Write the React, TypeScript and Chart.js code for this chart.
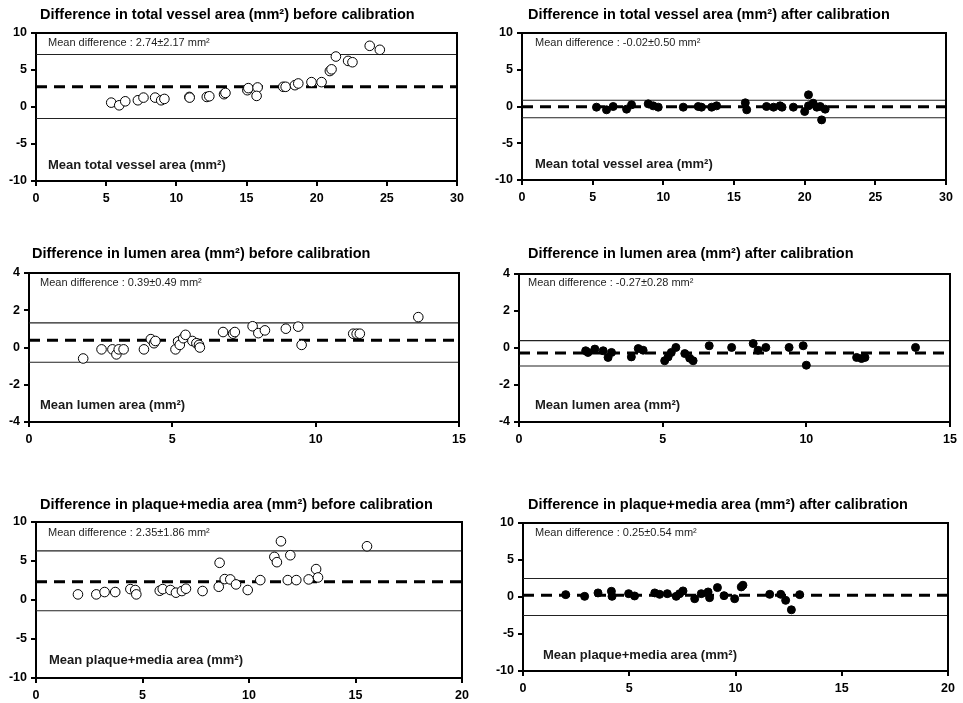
import React, { useEffect, useRef } from "react";
import { Chart, registerables } from "chart.js";

Chart.register(...registerables);

const FONT = "'Liberation Sans', Arial, Helvetica, sans-serif";

// Total vessel area: mean of both methods (x) vs. their difference (y)
const vesselBeforeX = [5.36, 5.93, 6.36, 7.26, 7.66, 8.49, 8.92, 9.15, 10.93, 10.95, 12.17, 12.35, 13.4, 13.5, 15.06, 15.13, 15.79, 15.72, 17.62, 17.79, 18.45, 18.69, 19.63, 20.35, 20.94, 21.06, 21.37, 22.24, 22.55, 23.78, 24.5];
const vesselBeforeY = [0.59, 0.23, 0.77, 0.91, 1.27, 1.27, 0.91, 1.09, 1.36, 1.27, 1.36, 1.45, 1.73, 1.9, 2.27, 2.55, 2.64, 1.5, 2.73, 2.73, 2.95, 3.18, 3.36, 3.36, 4.86, 5.09, 6.82, 6.23, 6.05, 8.27, 7.73];
const vesselAfterX = [5.27, 5.98, 6.45, 7.4, 7.75, 8.93, 9.28, 9.64, 11.41, 12.47, 12.7, 13.42, 13.77, 15.8, 15.9, 17.3, 17.8, 18.26, 18.4, 19.2, 20.0, 20.27, 20.27, 20.6, 20.86, 21.1, 21.2, 21.45];
const vesselAfterY = [-0.09, -0.45, 0, -0.36, 0.23, 0.36, 0.09, -0.09, -0.09, 0, -0.09, -0.09, 0.09, 0.5, -0.45, 0, -0.09, 0.09, -0.09, -0.09, -0.68, 1.59, 0.09, 0.45, -0.09, 0, -1.82, -0.36];

// Lumen area
const lumenBeforeX = [1.89, 2.53, 2.91, 3.05, 3.13, 3.3, 4.01, 4.25, 4.36, 4.41, 5.11, 5.2, 5.26, 5.38, 5.46, 5.7, 5.84, 5.93, 5.96, 6.77, 7.12, 7.18, 7.8, 8.0, 8.23, 8.96, 9.39, 9.51, 11.31, 11.43, 11.54, 13.58];
const lumenBeforeY = [-0.59, -0.1, -0.1, -0.37, -0.1, -0.1, -0.1, 0.45, 0.23, 0.35, -0.1, 0.32, 0.14, 0.5, 0.68, 0.35, 0.23, 0.14, 0, 0.83, 0.74, 0.83, 1.14, 0.77, 0.92, 1.01, 1.12, 0.14, 0.74, 0.74, 0.74, 1.63];
const lumenAfterX = [2.32, 2.4, 2.64, 2.93, 3.1, 3.22, 3.91, 4.15, 4.32, 5.07, 5.19, 5.3, 5.46, 5.77, 5.94, 6.06, 6.62, 7.4, 8.15, 8.32, 8.59, 9.4, 9.89, 10.0, 11.75, 11.92, 12.04, 13.8];
const lumenAfterY = [-0.15, -0.24, -0.06, -0.15, -0.51, -0.24, -0.48, -0.03, -0.12, -0.69, -0.48, -0.24, 0.03, -0.3, -0.55, -0.69, 0.12, 0.03, 0.24, -0.12, 0.03, 0.03, 0.12, -0.93, -0.51, -0.57, -0.51, 0.03];

// Plaque + media area
const plaqueBeforeX = [1.97, 2.83, 3.22, 3.72, 4.43, 4.66, 4.71, 5.81, 5.95, 6.31, 6.57, 6.85, 7.04, 7.82, 8.58, 8.62, 8.86, 9.12, 9.39, 9.94, 10.53, 11.19, 11.31, 11.5, 11.82, 11.94, 12.22, 12.8, 13.15, 13.24, 15.54];
const plaqueBeforeY = [0.72, 0.72, 1.02, 1.02, 1.4, 1.28, 0.72, 1.19, 1.4, 1.28, 0.94, 1.15, 1.45, 1.15, 1.7, 4.77, 2.68, 2.64, 2.0, 1.28, 2.55, 5.53, 4.85, 7.53, 2.55, 5.74, 2.55, 2.64, 3.96, 2.89, 6.89];
const plaqueAfterX = [2.01, 2.9, 3.53, 4.16, 4.19, 4.97, 5.25, 6.2, 6.43, 6.79, 7.21, 7.37, 7.53, 8.08, 8.39, 8.71, 8.78, 9.15, 9.46, 9.96, 10.27, 10.35, 11.61, 12.13, 12.36, 12.63, 13.02];
const plaqueAfterY = [0.32, 0.09, 0.55, 0.77, 0.09, 0.45, 0.14, 0.55, 0.36, 0.45, 0.09, 0.45, 0.82, -0.23, 0.45, 0.68, -0.09, 1.27, 0.18, -0.23, 1.36, 1.59, 0.36, 0.36, -0.45, -1.73, 0.32];

// Summary statistics per panel (vessel before/after, lumen before/after, plaque before/after)
const meanDiff = [2.74, -0.02, 0.39, -0.27, 2.35, 0.25];
const sdDiff = [2.17, 0.5, 0.49, 0.28, 1.86, 0.54];
const upperLimit = [7.1, 0.86, 1.32, 0.4, 6.3, 2.5];
const lowerLimit = [-1.55, -1.54, -0.79, -0.97, -1.37, -2.5];

// Axis ticks
const xTicksVessel = [0, 5, 10, 15, 20, 25, 30];
const xTicksLumen = [0, 5, 10, 15];
const xTicksPlaque = [0, 5, 10, 15, 20];
const yTicksWide = [-10, -5, 0, 5, 10];
const yTicksNarrow = [-4, -2, 0, 2, 4];

const titles = [
  "Difference in total vessel area (mm²) before calibration",
  "Difference in total vessel area (mm²) after calibration",
  "Difference in lumen area (mm²) before calibration",
  "Difference in lumen area (mm²) after calibration",
  "Difference in plaque+media area (mm²) before calibration",
  "Difference in plaque+media area (mm²) after calibration",
];
const captions = [
  "Mean total vessel area (mm²)",
  "Mean total vessel area (mm²)",
  "Mean lumen area (mm²)",
  "Mean lumen area (mm²)",
  "Mean plaque+media area (mm²)",
  "Mean plaque+media area (mm²)",
];

type Box = { l: number; t: number; r: number; b: number };
type Panel = {
  xs: number[];
  ys: number[];
  filled: boolean;
  xTicks: number[];
  yTicks: number[];
  box: Box;
  titleAt: [number, number];
  meanAt: [number, number];
  captionAt: [number, number];
};

// Plot rectangles (page pixels) and text offsets for the 3 x 2 grid
const panels: Panel[] = [
  { xs: vesselBeforeX, ys: vesselBeforeY, filled: false, xTicks: xTicksVessel, yTicks: yTicksWide,
    box: { l: 36, t: 33, r: 457, b: 181 }, titleAt: [4, -18], meanAt: [12, 10], captionAt: [12, -16] },
  { xs: vesselAfterX, ys: vesselAfterY, filled: true, xTicks: xTicksVessel, yTicks: yTicksWide,
    box: { l: 522, t: 33, r: 946, b: 180 }, titleAt: [6, -18], meanAt: [13, 10], captionAt: [13, -16] },
  { xs: lumenBeforeX, ys: lumenBeforeY, filled: false, xTicks: xTicksLumen, yTicks: yTicksNarrow,
    box: { l: 29, t: 273, r: 459, b: 422 }, titleAt: [3, -19], meanAt: [11, 10], captionAt: [11, -17] },
  { xs: lumenAfterX, ys: lumenAfterY, filled: true, xTicks: xTicksLumen, yTicks: yTicksNarrow,
    box: { l: 519, t: 274, r: 950, b: 422 }, titleAt: [9, -20], meanAt: [9, 9], captionAt: [16, -17] },
  { xs: plaqueBeforeX, ys: plaqueBeforeY, filled: false, xTicks: xTicksPlaque, yTicks: yTicksWide,
    box: { l: 36, t: 522, r: 462, b: 678 }, titleAt: [4, -17], meanAt: [12, 11], captionAt: [13, -18] },
  { xs: plaqueAfterX, ys: plaqueAfterY, filled: true, xTicks: xTicksPlaque, yTicks: yTicksWide,
    box: { l: 523, t: 523, r: 948, b: 671 }, titleAt: [5, -18], meanAt: [12, 10], captionAt: [20, -16] },
];

const PAD_LEFT = 40;
const PAD_TOP = 30;
const PAD_RIGHT = 14;
const PAD_BOTTOM = 30;

const panelDecor = {
  id: "panelDecor",
  afterDraw(chart: any, _args: any, opts: any) {
    const { ctx, chartArea: a } = chart;
    ctx.save();
    // top and right edges of the frame
    ctx.strokeStyle = "#000";
    ctx.lineWidth = 2;
    ctx.beginPath();
    ctx.moveTo(a.left, a.top);
    ctx.lineTo(a.right, a.top);
    ctx.lineTo(a.right, a.bottom);
    ctx.stroke();

    ctx.textAlign = "left";
    ctx.textBaseline = "middle";
    ctx.fillStyle = "#000";
    ctx.font = `bold 14.5px ${FONT}`;
    ctx.fillText(opts.title, a.left + opts.titleAt[0], a.top + opts.titleAt[1]);

    ctx.fillStyle = "#1e1e1e";
    ctx.font = `11px ${FONT}`;
    ctx.fillText(opts.meanText, a.left + opts.meanAt[0], a.top + opts.meanAt[1]);

    ctx.fillStyle = "#1a1a1a";
    ctx.font = `bold 13px ${FONT}`;
    ctx.fillText(opts.caption, a.left + opts.captionAt[0], a.bottom + opts.captionAt[1]);
    ctx.restore();
  },
};

function BlandAltman({ index }: { index: number }) {
  const ref = useRef<HTMLCanvasElement | null>(null);
  const p = panels[index];
  const width = p.box.r - p.box.l + PAD_LEFT + PAD_RIGHT;
  const height = p.box.b - p.box.t + PAD_TOP + PAD_BOTTOM;

  useEffect(() => {
    if (!ref.current) return;
    const xMin = p.xTicks[0];
    const xMax = p.xTicks[p.xTicks.length - 1];
    const hLine = (y: number) => [
      { x: xMin, y },
      { x: xMax, y },
    ];
    const mean = meanDiff[index];
    const sd = sdDiff[index];
    const tickFont = { family: FONT, size: 12.5, weight: "bold" as const };

    const chart = new Chart(ref.current, {
      type: "scatter",
      data: {
        datasets: [
          {
            data: p.xs.map((x, i) => ({ x, y: p.ys[i] })),
            pointRadius: p.filled ? 4 : 4.8,
            pointBorderWidth: 1,
            pointBackgroundColor: p.filled ? "#000" : "#fff",
            pointBorderColor: "#000",
            showLine: false,
          },
          {
            data: hLine(mean),
            showLine: true,
            borderColor: "#000",
            borderWidth: 3,
            borderDash: [11, 7],
            pointRadius: 0,
          },
          {
            data: hLine(upperLimit[index]),
            showLine: true,
            borderColor: "#222",
            borderWidth: 1.1,
            pointRadius: 0,
          },
          {
            data: hLine(lowerLimit[index]),
            showLine: true,
            borderColor: "#222",
            borderWidth: 1.1,
            pointRadius: 0,
          },
        ],
      },
      options: {
        animation: false,
        responsive: false,
        devicePixelRatio: 1,
        events: [],
        layout: { padding: { left: 0, top: PAD_TOP, right: PAD_RIGHT, bottom: 0 } },
        scales: {
          x: {
            type: "linear",
            min: xMin,
            max: xMax,
            afterFit: (s: any) => {
              s.height = PAD_BOTTOM;
            },
            afterBuildTicks: (s: any) => {
              s.ticks = p.xTicks.map((v) => ({ value: v }));
            },
            grid: { drawOnChartArea: false, drawTicks: true, tickLength: 5, color: "#000", lineWidth: 2 },
            border: { display: true, color: "#000", width: 2 },
            ticks: { color: "#000", font: tickFont, padding: 5, maxRotation: 0 },
          },
          y: {
            type: "linear",
            min: p.yTicks[0],
            max: p.yTicks[p.yTicks.length - 1],
            afterFit: (s: any) => {
              s.width = PAD_LEFT;
            },
            afterBuildTicks: (s: any) => {
              s.ticks = p.yTicks.map((v) => ({ value: v }));
            },
            grid: { drawOnChartArea: false, drawTicks: true, tickLength: 5, color: "#000", lineWidth: 2 },
            border: { display: true, color: "#000", width: 2 },
            ticks: { color: "#000", font: tickFont, padding: 4 },
          },
        },
        plugins: {
          legend: { display: false },
          tooltip: { enabled: false },
          title: { display: false },
          // @ts-ignore custom plugin options
          panelDecor: {
            title: titles[index],
            caption: captions[index],
            meanText: `Mean difference : ${mean.toFixed(2)}±${sd.toFixed(2)} mm²`,
            titleAt: p.titleAt,
            meanAt: p.meanAt,
            captionAt: p.captionAt,
          },
        },
      },
      plugins: [panelDecor],
    } as any);

    return () => chart.destroy();
  }, [index]);

  return (
    <canvas
      ref={ref}
      width={width}
      height={height}
      style={{
        position: "absolute",
        left: p.box.l - PAD_LEFT,
        top: p.box.t - PAD_TOP,
        width,
        height,
      }}
    />
  );
}

export default function App() {
  return (
    <div
      style={{
        position: "absolute",
        left: 0,
        top: 0,
        width: 963,
        height: 703,
        background: "#fff",
        overflow: "hidden",
      }}
    >
      {panels.map((_, i) => (
        <BlandAltman key={i} index={i} />
      ))}
    </div>
  );
}
